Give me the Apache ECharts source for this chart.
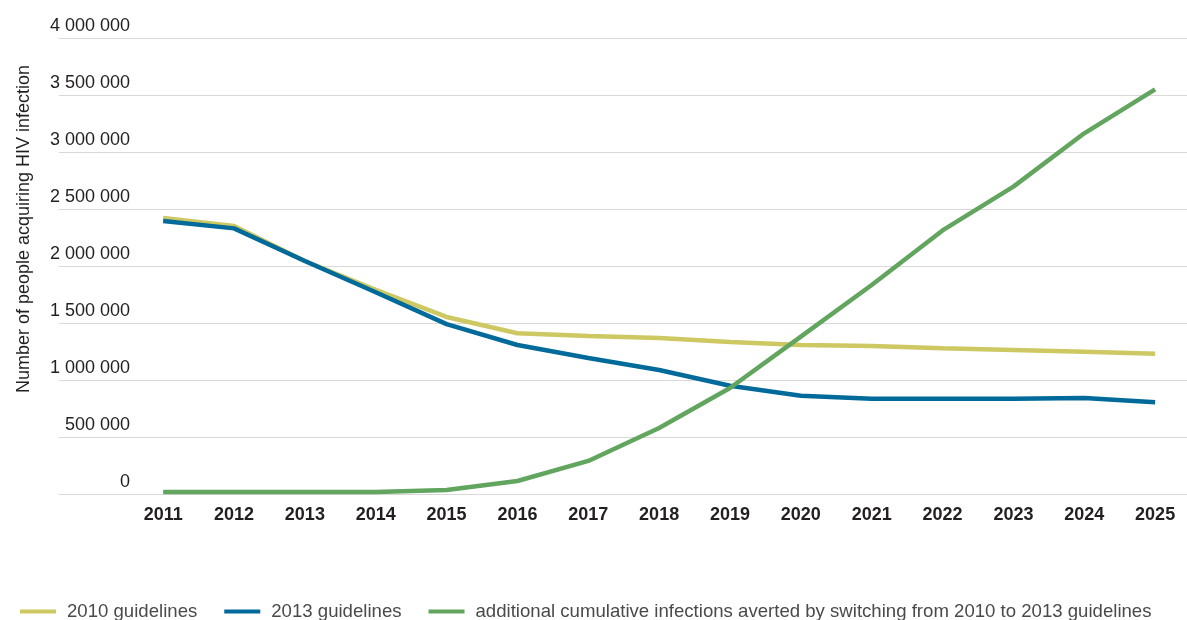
<!DOCTYPE html>
<html>
<head>
<meta charset="utf-8">
<script src="https://cdn.jsdelivr.net/npm/echarts@6/dist/echarts.min.js"></script>
<style>html,body{margin:0;padding:0;background:#fff}#c{width:1187px;height:620px}</style>
</head>
<body>
<div id="c"></div>
<script>
var years = [2011,2012,2013,2014,2015,2016,2017,2018,2019,2020,2021,2022,2023,2024,2025];
var seriesNames = ['2010 guidelines','2013 guidelines','additional cumulative infections averted by switching from 2010 to 2013 guidelines'];
var g2010 = [2421000,2351000,2044000,1790000,1553000,1410000,1386000,1368000,1333000,1307000,1298000,1278000,1263000,1248000,1231000];
var g2013 = [2395000,2330000,2044000,1770000,1490000,1307000,1193000,1088000,950000,862000,836000,836000,836000,842000,804000];
var averted = [18000,18000,18000,18000,35000,114000,290000,579000,930000,1380000,1833000,2312000,2696000,3164000,3550000];
var yTicks = [0,500000,1000000,1500000,2000000,2500000,3000000,3500000,4000000];
var colors = ['#cdc861','#006a9a','#62a55e'];
var FONT = '"Liberation Sans", Arial, sans-serif';

function pairs(vals){ return years.map(function(y,i){ return [y, vals[i]]; }); }
function fmt(v){ return String(v).replace(/\B(?=(\d{3})+(?!\d))/g, ' '); }

var chart = echarts.init(document.getElementById('c'), null, {renderer:'canvas'});
chart.setOption({
  animation:false,
  backgroundColor:'#fff',
  color: colors,
  grid:{left:59, right:0, top:38, bottom:126, containLabel:false},
  legend:{
    left:15, top:597, itemWidth:36, itemHeight:4, itemGap:27, icon:'rect',
    textStyle:{fontFamily:FONT, fontSize:18.6, color:'#4a4a4a', padding:[0,0,0,6]},
    data: seriesNames
  },
  xAxis:{
    type:'value', min:2009.53, max:2025.45,
    axisLine:{show:false}, axisTick:{show:false}, splitLine:{show:false},
    axisLabel:{customValues: years, margin:12, fontFamily:FONT, fontSize:18, fontWeight:'bold', color:'#231f20',
      formatter:function(v){ return String(v); }}
  },
  yAxis:{
    type:'value', min:0, max:4000000, interval:500000,
    name:'Number of people acquiring HIV infection',
    nameLocation:'middle', nameRotate:90, nameGap:26,
    nameTextStyle:{fontFamily:FONT, fontSize:18, color:'#231f20', padding:[0,0,0,74]},
    axisLine:{show:false}, axisTick:{show:false},
    splitLine:{lineStyle:{color:'#d9d9d9', width:1}},
    axisLabel:{margin:-71, align:'right', verticalAlign:'bottom', padding:[0,0,3,0],
      fontFamily:FONT, fontSize:18, color:'#231f20', formatter:fmt}
  },
  series:[
    {name:seriesNames[0], type:'line', data:pairs(g2010), symbol:'none', lineStyle:{width:4.5, color:colors[0]}, itemStyle:{color:colors[0]}},
    {name:seriesNames[1], type:'line', data:pairs(g2013), symbol:'none', lineStyle:{width:4.5, color:colors[1]}, itemStyle:{color:colors[1]}},
    {name:seriesNames[2], type:'line', data:pairs(averted), symbol:'none', lineStyle:{width:4.5, color:colors[2]}, itemStyle:{color:colors[2]}}
  ]
});
</script>
</body>
</html>
